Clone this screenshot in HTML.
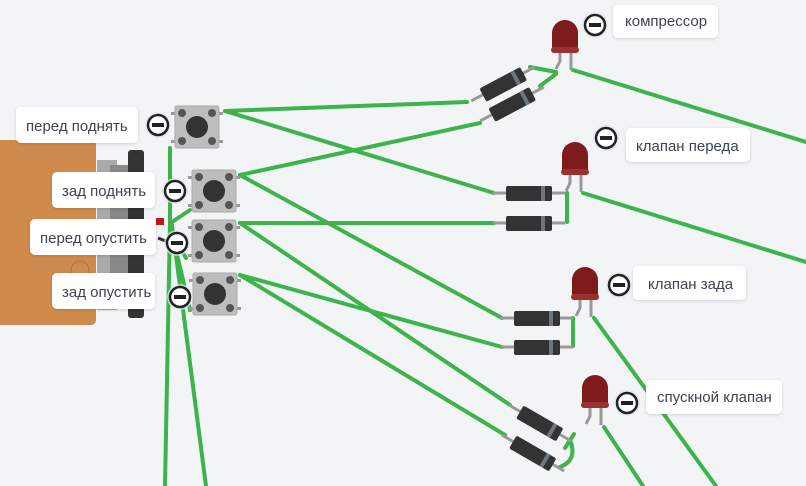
<!DOCTYPE html>
<html><head><meta charset="utf-8"><style>
html,body{margin:0;padding:0;background:#f3f4f6;width:806px;height:486px;overflow:hidden}
svg{display:block}
text{font-family:"Liberation Sans","DejaVu Sans",sans-serif;font-size:15px;fill:#3d4450}
</style></head><body>
<svg width="806" height="486" viewBox="0 0 806 486" xmlns="http://www.w3.org/2000/svg">
<defs>
<filter id="sh" x="-10%" y="-20%" width="120%" height="150%"><feDropShadow dx="0" dy="1" stdDeviation="1.5" flood-color="#000" flood-opacity="0.15"/></filter>
<g id="btn">
<rect x="-26" y="-15" width="8" height="3" fill="#999"/><rect x="18" y="-15" width="8" height="3" fill="#999"/>
<rect x="-26" y="13" width="8" height="3" fill="#999"/><rect x="18" y="13" width="8" height="3" fill="#999"/>
<rect x="-22" y="-21" width="44" height="42" rx="2" fill="#bdbdbd" stroke="#aaa"/>
<circle cx="-15" cy="-14" r="4" fill="#555"/><circle cx="15" cy="-14" r="4" fill="#555"/>
<circle cx="-15" cy="14" r="4" fill="#555"/><circle cx="15" cy="14" r="4" fill="#555"/>
<circle cx="0" cy="0" r="11" fill="#333"/>
</g>
<g id="led">
<polyline points="-5,18 -5,28 -9,36" fill="none" stroke="#999" stroke-width="3"/>
<line x1="6" y1="18" x2="6" y2="37" stroke="#999" stroke-width="3"/>
<path d="M-13,0 A13,13 0 0 1 13,0 V18 H-13 Z" fill="#7e1c1c"/>
<rect x="-14" y="14" width="28" height="6" rx="3" fill="#9b3030"/>
</g>
<g id="diode">
<line x1="-36" y1="0" x2="36" y2="0" stroke="#999" stroke-width="3"/>
<rect x="-23" y="-7" width="46" height="15" rx="2" fill="#333"/>
<rect x="12" y="-7" width="4" height="15" fill="#6b7780"/>
</g>
<g id="minus">
<circle r="13" fill="#dde6f0" opacity="0.7"/>
<circle r="10" fill="#fff" stroke="#222" stroke-width="2.5"/>
<rect x="-6" y="-2" width="12" height="4" fill="#222"/>
</g>
</defs>

<!-- board -->
<rect x="-10" y="140" width="106" height="185" rx="5" fill="#d08b4c"/>
<rect x="97" y="160" width="20" height="150" fill="#aaa"/>
<rect x="110" y="165" width="18" height="140" fill="#888"/>
<rect x="128" y="150" width="16" height="168" rx="3" fill="#333"/>
<circle cx="80" cy="270" r="9" fill="none" stroke="#b07040" stroke-width="1"/>

<!-- wires -->
<g stroke="#3cb44b" stroke-width="4" fill="none" stroke-linecap="round">
<line x1="225" y1="111" x2="467" y2="102"/>
<line x1="225" y1="111" x2="494" y2="193"/>
<line x1="240" y1="175" x2="480" y2="123"/>
<line x1="240" y1="175" x2="502" y2="318"/>
<line x1="240" y1="223" x2="494" y2="223"/>
<line x1="240" y1="223" x2="510" y2="405"/>
<line x1="240" y1="275" x2="502" y2="347"/>
<line x1="240" y1="275" x2="505" y2="435"/>
<line x1="573" y1="70" x2="806" y2="142"/>
<line x1="583" y1="193" x2="806" y2="262"/>
<line x1="594" y1="318" x2="716" y2="486"/>
<line x1="604" y1="427" x2="643" y2="486"/>
<polyline points="170,148 170,222 165,486"/>
<line x1="172" y1="225" x2="206" y2="486"/>
<line x1="172" y1="222" x2="190" y2="210"/>
<line x1="173" y1="235" x2="186" y2="258"/>
<line x1="176" y1="250" x2="190" y2="310"/>
<polyline points="530,67 556,72"/>
<polyline points="540,86 556,74"/>
<polyline points="567,193 567,222"/>
<polyline points="573,318 573,346"/>
<path d="M570,440 Q578,460 560,467"/>
<polyline points="574,434 565,448"/>
</g>

<!-- buttons -->
<use href="#btn" x="197" y="127"/>
<use href="#btn" x="214" y="191"/>
<use href="#btn" x="214" y="241"/>
<use href="#btn" x="215" y="294"/>

<!-- red/black small wires -->
<rect x="156" y="218" width="8" height="7" fill="#c01818"/>
<line x1="158" y1="238" x2="168" y2="242" stroke="#333" stroke-width="3"/>

<!-- diodes -->
<use href="#diode" transform="translate(503,84) rotate(-28)"/>
<use href="#diode" transform="translate(512,104) rotate(-28)"/>
<use href="#diode" transform="translate(529,193)"/>
<use href="#diode" transform="translate(529,223)"/>
<use href="#diode" transform="translate(537,318)"/>
<use href="#diode" transform="translate(537,347)"/>
<use href="#diode" transform="translate(540,423) rotate(30)"/>
<use href="#diode" transform="translate(533,453) rotate(30)"/>

<!-- LEDs -->
<use href="#led" x="565" y="33"/>
<use href="#led" x="575" y="155"/>
<use href="#led" x="585" y="280"/>
<use href="#led" x="595" y="388"/>

<!-- labels -->
<g filter="url(#sh)" fill="#fff">
<rect x="16" y="107" width="122" height="36" rx="5"/>
<rect x="52" y="172" width="103" height="36" rx="5"/>
<rect x="30" y="219" width="126" height="36" rx="5"/>
<rect x="52" y="273" width="103" height="36" rx="5"/>
<rect x="613" y="5" width="105" height="33" rx="5"/>
<rect x="626" y="128" width="124" height="34" rx="5"/>
<rect x="633" y="266" width="113" height="34" rx="5"/>
<rect x="646" y="380" width="136" height="34" rx="5"/>
</g>
<text x="26" y="131">перед поднять</text>
<text x="62" y="196">зад поднять</text>
<text x="40" y="243">перед опустить</text>
<text x="62" y="297">зад опустить</text>
<text x="625" y="26">компрессор</text>
<text x="636" y="151">клапан переда</text>
<text x="648" y="289">клапан зада</text>
<text x="657" y="402">спускной клапан</text>

<use href="#minus" x="158" y="125"/>
<use href="#minus" x="175" y="191"/>
<use href="#minus" x="177" y="243"/>
<use href="#minus" x="180" y="297"/>
<use href="#minus" x="595" y="25"/>
<use href="#minus" x="606" y="138"/>
<use href="#minus" x="619" y="285"/>
<use href="#minus" x="627" y="403"/>
</svg>
</body></html>
